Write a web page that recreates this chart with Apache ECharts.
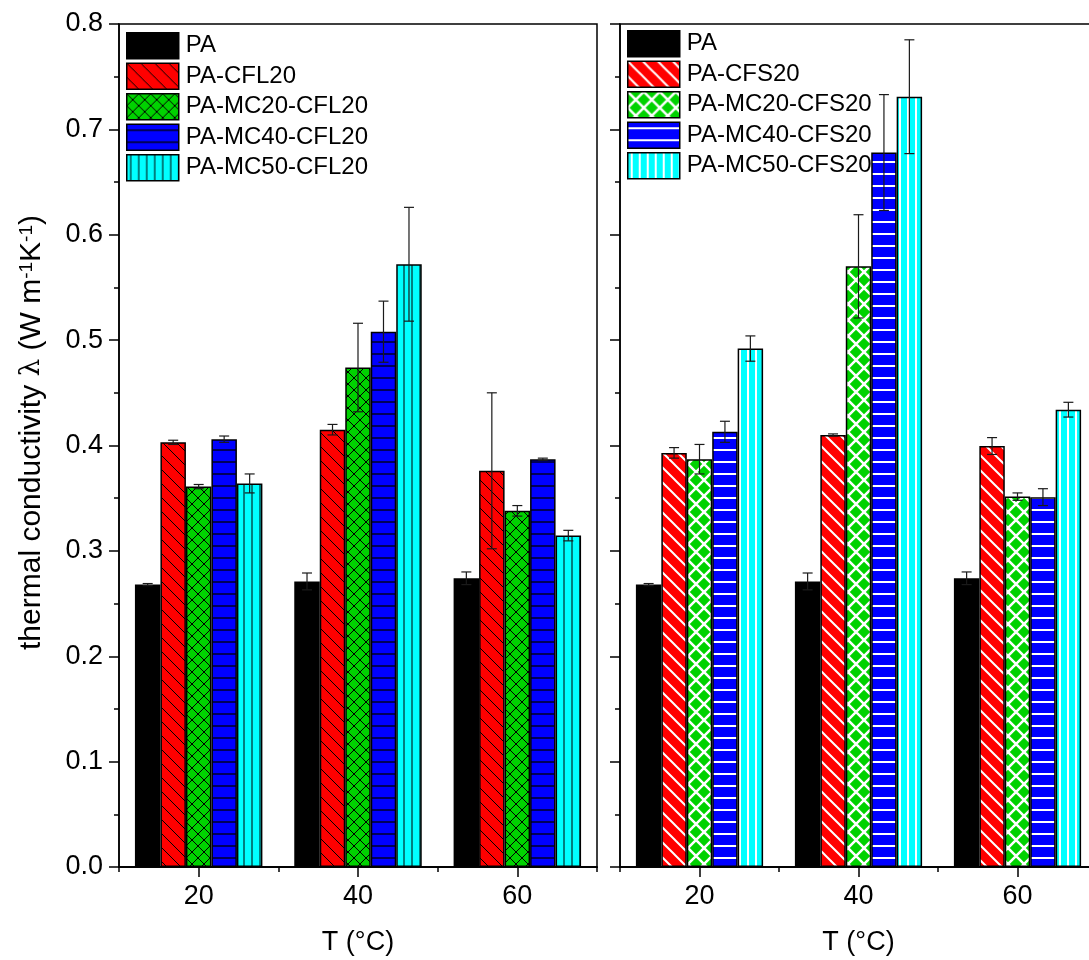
<!DOCTYPE html>
<html><head><meta charset="utf-8">
<script src="https://cdn.jsdelivr.net/npm/echarts@6/dist/echarts.min.js"></script>
<style>html,body{margin:0;padding:0;background:#fff}#c{width:1089px;height:960px}</style>
</head><body><div id="c"></div>
<script>
const categories = ['20', '40', '60'];
const leftNames = ['PA', 'PA-CFL20', 'PA-MC20-CFL20', 'PA-MC40-CFL20', 'PA-MC50-CFL20'];
const rightNames = ['PA', 'PA-CFS20', 'PA-MC20-CFS20', 'PA-MC40-CFS20', 'PA-MC50-CFS20'];
// values per series, per temperature (20, 40, 60 °C)
const leftValues = [
  [0.268, 0.271, 0.274],
  [0.403, 0.415, 0.376],
  [0.361, 0.474, 0.338],
  [0.406, 0.508, 0.387],
  [0.364, 0.572, 0.3145]
];
const leftErrors = [
  [0.001, 0.008, 0.006],
  [0.002, 0.005, 0.074],
  [0.002, 0.042, 0.005],
  [0.003, 0.029, 0.001],
  [0.009, 0.054, 0.005]
];
const rightValues = [
  [0.268, 0.271, 0.274],
  [0.393, 0.410, 0.3995],
  [0.387, 0.570, 0.3515],
  [0.413, 0.678, 0.351],
  [0.492, 0.731, 0.434]
];
const rightErrors = [
  [0.001, 0.008, 0.006],
  [0.005, 0.001, 0.008],
  [0.014, 0.049, 0.0035],
  [0.010, 0.055, 0.008],
  [0.012, 0.054, 0.007]
];

const FONT = 'Liberation Sans';

function pat(bg, fg, kind, s, lw) {
  const c = document.createElement('canvas');
  c.width = s; c.height = s;
  const g = c.getContext('2d');
  g.fillStyle = bg; g.fillRect(0, 0, s, s);
  g.strokeStyle = fg; g.lineWidth = lw; g.beginPath();
  if (kind === 'diag' || kind === 'cross') {
    for (let k = -1; k <= 1; k++) { g.moveTo(-1, -1 + k * s); g.lineTo(s + 1, s + 1 + k * s); }
  }
  if (kind === 'cross') {
    for (let k = -1; k <= 1; k++) { g.moveTo(-1, s + 1 + k * s); g.lineTo(s + 1, -1 + k * s); }
  }
  if (kind === 'h') { g.moveTo(0, s / 2); g.lineTo(s, s / 2); }
  if (kind === 'v') { g.moveTo(s / 2, 0); g.lineTo(s / 2, s); }
  g.stroke();
  return { image: c, repeat: 'repeat' };
}

const GREEN = '#00d200';
const leftFills = [
  '#000000',
  pat('#ff0000', '#000000', 'diag', 14, 1),
  pat(GREEN, '#000000', 'cross', 12, 1),
  pat('#0000ff', '#000000', 'h', 12, 1.3),
  pat('#00ffff', '#000000', 'v', 8, 1)
];
const rightFills = [
  '#000000',
  pat('#ff0000', '#ffffff', 'diag', 15, 2),
  pat(GREEN, '#ffffff', 'cross', 16, 2.5),
  pat('#0000ff', '#ffffff', 'h', 12, 2),
  pat('#00ffff', '#ffffff', 'v', 8, 2)
];

const chart = echarts.init(document.getElementById('c'), null, { renderer: 'canvas' });

const gridBase = { top: 24, height: 843, containLabel: false, outerBoundsMode: 'none' };
const grids = [
  Object.assign({ left: 119, width: 478, show: true, borderColor: '#000', borderWidth: 1.5 }, gridBase),
  Object.assign({ left: 620, width: 477, show: true, borderColor: '#000', borderWidth: 1.5 }, gridBase),
  Object.assign({ left: 119, width: 478, show: false }, gridBase),
  Object.assign({ left: 620, width: 477, show: false }, gridBase)
];

function mainX(gi) {
  return {
    type: 'category', gridIndex: gi, data: categories,
    axisLine: { show: true, lineStyle: { color: '#000', width: 1.5 } },
    axisTick: { show: true, alignWithLabel: true, interval: 0, length: 10, lineStyle: { color: '#000', width: 1.5 } },
    axisLabel: { show: true, interval: 0, color: '#000', fontFamily: FONT, fontSize: 27, margin: 16 },
    splitLine: { show: false },
    name: 'T (°C)', nameLocation: 'middle', nameGap: 62,
    nameTextStyle: { color: '#000', fontFamily: FONT, fontSize: 27 }
  };
}
function overlayX(gi) {
  return {
    type: 'category', gridIndex: gi, data: categories,
    axisLine: { show: true, lineStyle: { color: '#000', width: 1.5 } },
    axisTick: { show: true, alignWithLabel: false, interval: 0, length: 5, lineStyle: { color: '#000', width: 1.5 } },
    axisLabel: { show: false }, splitLine: { show: false }
  };
}
function mainY(gi, withLabels) {
  const ax = {
    type: 'value', gridIndex: gi, min: 0, max: 0.8, interval: 0.1,
    axisLine: { show: true, lineStyle: { color: '#000', width: 1.5 } },
    axisTick: { show: true, inside: false, length: 10, lineStyle: { color: '#000', width: 1.5 } },
    minorTick: { show: true, splitNumber: 2, length: 5, lineStyle: { color: '#000', width: 1.5 } },
    axisLabel: { show: withLabels, color: '#000', fontFamily: FONT, fontSize: 27, margin: 16,
      formatter: v => v.toFixed(1) },
    splitLine: { show: false }, minorSplitLine: { show: false }
  };
  if (withLabels) {
    ax.name = 'thermal conductivity {l|λ} (W m{s|-1}K{s|-1})';
    ax.nameLocation = 'middle';
    ax.nameGap = 72;
    ax.nameRotate = 90;
    ax.nameTextStyle = {
      color: '#000', fontFamily: FONT, fontSize: 30, padding: [0, 0, 0, 26],
      rich: {
        l: { fontFamily: 'DejaVu Serif', fontSize: 28, color: '#000' },
        s: { fontFamily: FONT, fontSize: 19, color: '#000', verticalAlign: 'top' }
      }
    };
  }
  return ax;
}
function hiddenY(gi) {
  return { type: 'value', gridIndex: gi, min: 0, max: 1, show: false, splitLine: { show: false } };
}

function barSeries(names, values, fills, xi, yi) {
  return names.map((n, i) => ({
    type: 'bar', name: n, xAxisIndex: xi, yAxisIndex: yi,
    barGap: '0%', barCategoryGap: '20%',
    itemStyle: { color: fills[i], borderColor: '#000', borderWidth: 1.5 },
    emphasis: { disabled: true },
    data: values[i], z: 2
  }));
}

function errData(values, errors) {
  const out = [];
  values.forEach((row, si) => row.forEach((v, ci) => out.push([ci, v, errors[si][ci], si])));
  return out;
}

function renderErr(params, api) {
  const c = api.value(0), v = api.value(1), e = api.value(2), b = api.value(3);
  const bw = api.size([1, 0])[0] * 0.8 / 5;
  const cx = api.coord([c, v])[0] + (b - 2) * bw;
  const yt = api.coord([c, v + e])[1];
  const yb = api.coord([c, v - e])[1];
  const st = { stroke: '#1a1a1a', lineWidth: 1.2 };
  const h = 5;
  return {
    type: 'group', children: [
      { type: 'line', shape: { x1: cx, y1: yt, x2: cx, y2: yb }, style: st },
      { type: 'line', shape: { x1: cx - h, y1: yt, x2: cx + h, y2: yt }, style: st },
      { type: 'line', shape: { x1: cx - h, y1: yb, x2: cx + h, y2: yb }, style: st }
    ]
  };
}

const legendBase = {
  orient: 'vertical', itemWidth: 52, itemHeight: 26, itemGap: 3, icon: 'rect', padding: 0,
  textStyle: { color: '#000', fontFamily: FONT, fontSize: 24, padding: [0, 0, 0, 2] },
  itemStyle: { borderColor: '#000', borderWidth: 1.5 },
  selectedMode: false
};

const option = {
  backgroundColor: '#fff',
  animation: false,
  grid: grids,
  xAxis: [mainX(0), mainX(1), overlayX(2), overlayX(3)],
  yAxis: [mainY(0, true), mainY(1, false), hiddenY(2), hiddenY(3)],
  legend: [
    Object.assign({ left: 126, top: 32, data: leftNames }, legendBase),
    Object.assign({ left: 627, top: 30, data: rightNames }, legendBase)
  ],
  series: [
    ...barSeries(leftNames, leftValues, leftFills, 0, 0),
    ...barSeries(rightNames, rightValues, rightFills, 1, 1),
    { type: 'custom', name: 'errL', xAxisIndex: 0, yAxisIndex: 0, renderItem: renderErr,
      encode: { x: 0, y: 1 }, data: errData(leftValues, leftErrors), z: 5, silent: true },
    { type: 'custom', name: 'errR', xAxisIndex: 1, yAxisIndex: 1, renderItem: renderErr,
      encode: { x: 0, y: 1 }, data: errData(rightValues, rightErrors), z: 5, silent: true }
  ]
};
chart.setOption(option);
</script></body></html>
